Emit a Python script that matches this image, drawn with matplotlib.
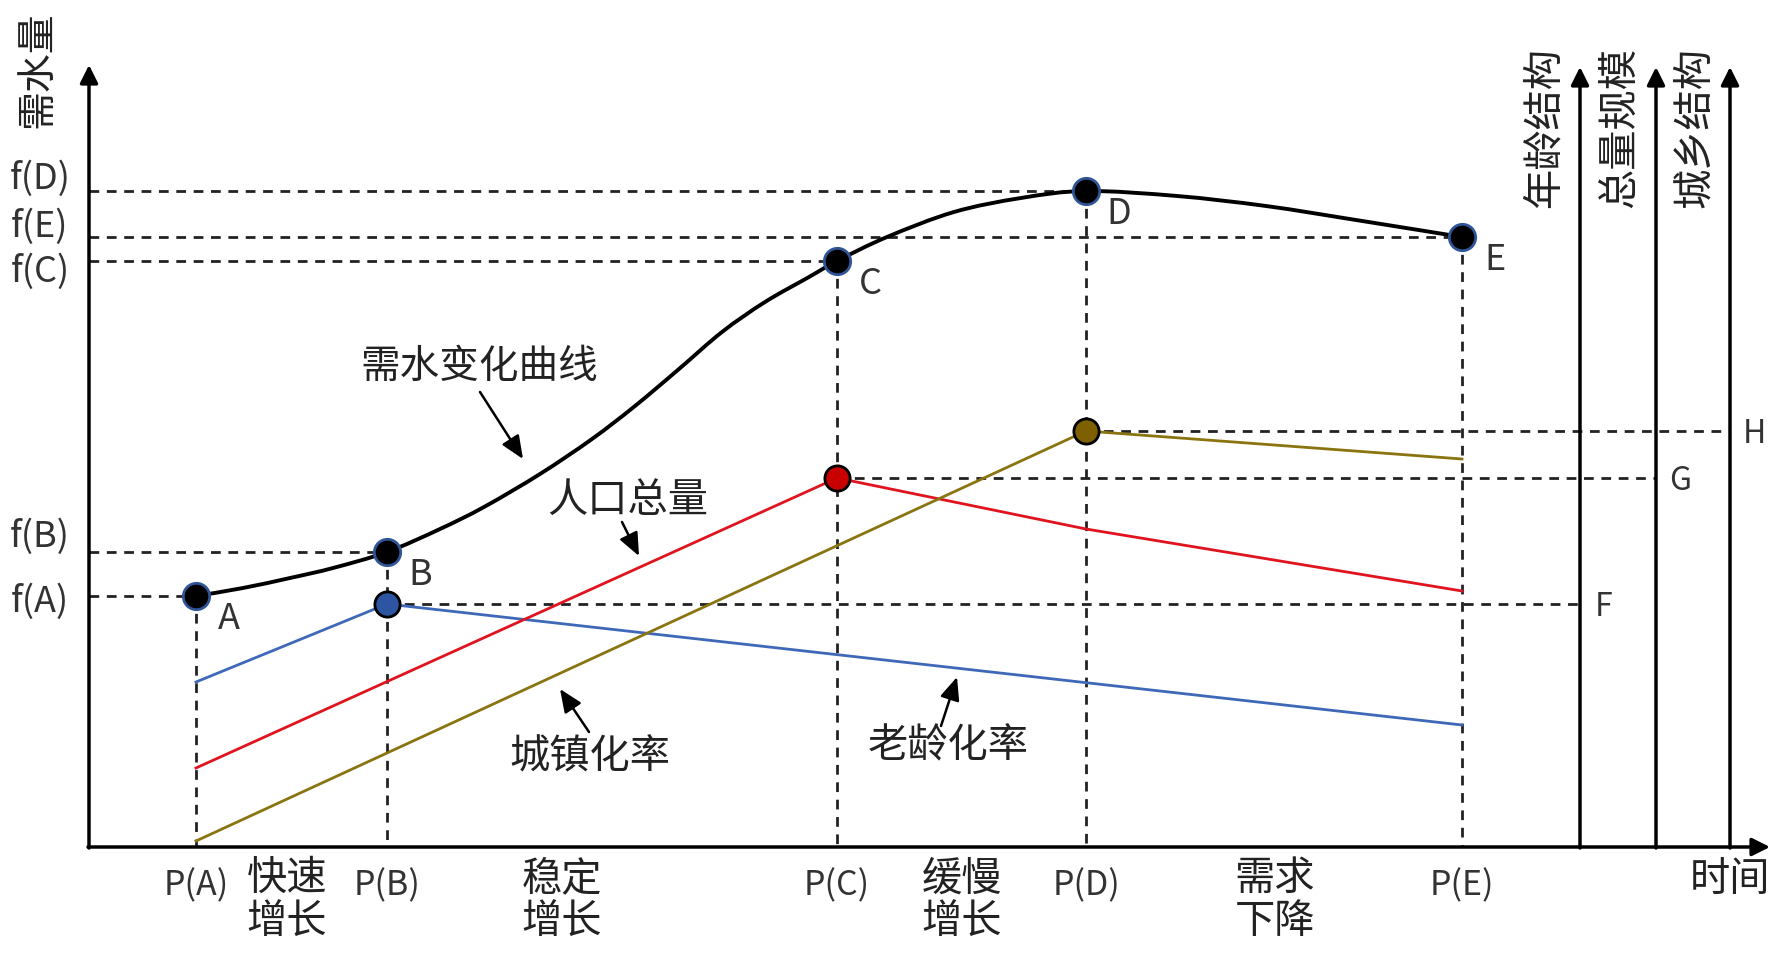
import matplotlib.pyplot as plt
from matplotlib.path import Path
from matplotlib.patches import PathPatch

plt.rcParams['font.family'] = ['Noto Sans CJK SC', 'DejaVu Sans']
plt.rcParams['lines.scale_dashes'] = False

# positions (pixel units, y downwards)
stages = ['A', 'B', 'C', 'D', 'E']
p_x = [196, 387, 837, 1086, 1462]
f_y = [597, 553, 262, 192, 238]

# water demand curve
curve_x = [196, 243, 290, 333, 387, 440, 484, 540, 592, 635, 679, 722, 765, 809, 837,
           887, 954, 1021, 1086, 1177, 1266, 1356, 1462]
curve_y = [597, 589, 579, 569, 553, 530, 508, 475, 440, 407, 370, 333, 303, 278, 262,
           238, 213, 199, 192, 197, 207, 221, 238]

aging_x = [196, 387, 1462]
aging_y = [683, 605, 726]
pop_x = [196, 837, 1086, 1462]
pop_y = [769, 479, 530, 592]
urban_x = [196, 1086, 1462]
urban_y = [842, 432, 460]

side_x = [1580, 1656, 1730]
side_names = ['年龄结构', '总量规模', '城乡结构']
side_letters = ['F', 'G', 'H']

stage_names = ['快速\n增长', '稳定\n增长', '缓慢\n增长', '需求\n下降']
stage_x = [287, 562, 962, 1275]

x0, y0 = 89, 848
dash = (7, 5.5)
txt = '#222222'

fig = plt.figure(figsize=(17.91, 9.62), dpi=100)
ax = fig.add_axes([0, 0, 1, 1])
ax.set_xlim(0, 1791)
ax.set_ylim(962, 0)
ax.axis('off')

def arrow(xy, xytext, lw=2.5, hl=0.6, hw=0.3, ms=18):
    ax.annotate('', xy=xy, xytext=xytext,
                arrowprops=dict(arrowstyle='-|>,head_length=%s,head_width=%s' % (hl, hw),
                                lw=lw, color='black', mutation_scale=ms,
                                shrinkA=0, shrinkB=0))

def smooth_path(xs, ys):
    # catmull-rom through the read points, drawn as bezier segments
    pts = list(zip(xs, ys))
    verts = [pts[0]]
    codes = [Path.MOVETO]
    n = len(pts)
    for i in range(n - 1):
        p0 = pts[i - 1] if i > 0 else pts[i]
        p1, p2 = pts[i], pts[i + 1]
        p3 = pts[i + 2] if i + 2 < n else pts[i + 1]
        c1 = (p1[0] + (p2[0] - p0[0]) / 6, p1[1] + (p2[1] - p0[1]) / 6)
        c2 = (p2[0] - (p3[0] - p1[0]) / 6, p2[1] - (p3[1] - p1[1]) / 6)
        verts += [c1, c2, p2]
        codes += [Path.CURVE4] * 3
    return Path(verts, codes)

# axes
arrow((x0, 66), (x0, y0 + 1))
arrow((1770, y0), (x0 - 1, y0))
for sx in side_x:
    arrow((sx, 68), (sx, y0 + 1))

# dashed guides
for px, fy in zip(p_x, f_y):
    ax.plot([x0, px], [fy, fy], color='#222222', lw=2, dashes=dash, zorder=1)
    ax.plot([px, px], [fy, y0], color='#222222', lw=2, dashes=dash, zorder=1)

guide_pts = [(aging_x[1], aging_y[1]), (pop_x[1], pop_y[1]), (urban_x[1], urban_y[1])]
for (gx, gy), sx, let in zip(guide_pts, side_x, side_letters):
    ax.plot([gx, sx], [gy, gy], color='#222222', lw=2, dashes=dash, zorder=1)
    ax.text(sx + 24, gy + 2, let, fontsize=23, ha='center', va='center', color='#333333')

# series
ax.plot(aging_x, aging_y, color='#3F69B8', lw=2, zorder=2)
ax.plot(pop_x, pop_y, color='#E0141E', lw=2, zorder=2)
ax.plot(urban_x, urban_y, color='#8A7410', lw=2, zorder=2)
ax.add_patch(PathPatch(smooth_path(curve_x, curve_y), fill=False, edgecolor='black',
                       lw=2.8, zorder=3))

ax.scatter(p_x, f_y, s=360, c='black', edgecolors='#2F5597', linewidths=2, zorder=5)
ax.scatter([aging_x[1]], [aging_y[1]], s=330, c='#2E55A2', edgecolors='black', linewidths=2, zorder=5)
ax.scatter([pop_x[1]], [pop_y[1]], s=330, c='#C80000', edgecolors='black', linewidths=2, zorder=5)
ax.scatter([urban_x[1]], [urban_y[1]], s=330, c='#7F6000', edgecolors='black', linewidths=2, zorder=5)

# point letters
for px, fy, s in zip(p_x, f_y, stages):
    ax.text(px + 33, fy + 22, s, fontsize=26, ha='center', va='center', color='#333333')

# y labels
for fy, s in zip(f_y, stages):
    off = {'D': -13, 'E': -11, 'C': 10, 'B': -16, 'A': 5}[s]
    ax.text(40, fy + off, 'f(%s)' % s, fontsize=26, ha='center', va='center', color='#333333')

# x labels
for px, s in zip(p_x, stages):
    ax.text(px, 886, 'P(%s)' % s, fontsize=24.5, ha='center', va='center', color='#333333')
for sx, s in zip(stage_x, stage_names):
    ax.text(sx, 900, s, fontsize=29, ha='center', va='center', linespacing=1.05, color=txt)

ax.text(37, 70, '需水量', fontsize=28, rotation=90, ha='center', va='center', color=txt)
for sx, s in zip(side_x, side_names):
    ax.text(sx - 36, 128, s, fontsize=29, rotation=90, ha='center', va='center', color=txt)
ax.text(1730, 880, '时间', fontsize=29, ha='center', va='center', color=txt)

# callouts
ax.text(479, 367, '需水变化曲线', fontsize=28.5, ha='center', va='center', color=txt)
arrow((523, 460), (480, 393), lw=1.8, hl=0.7, hw=0.3, ms=20)
ax.text(628, 501, '人口总量', fontsize=29, ha='center', va='center', color=txt)
arrow((639, 557), (622, 523), lw=1.8, hl=0.7, hw=0.3, ms=20)
ax.text(590, 757, '城镇化率', fontsize=29, ha='center', va='center', color=txt)
arrow((560, 690), (589, 733), lw=1.8, hl=0.7, hw=0.3, ms=20)
ax.text(948, 746, '老龄化率', fontsize=29, ha='center', va='center', color=txt)
arrow((957, 678), (941, 727), lw=1.8, hl=0.7, hw=0.3, ms=20)

fig.savefig('out.png', dpi=100, facecolor='white')
